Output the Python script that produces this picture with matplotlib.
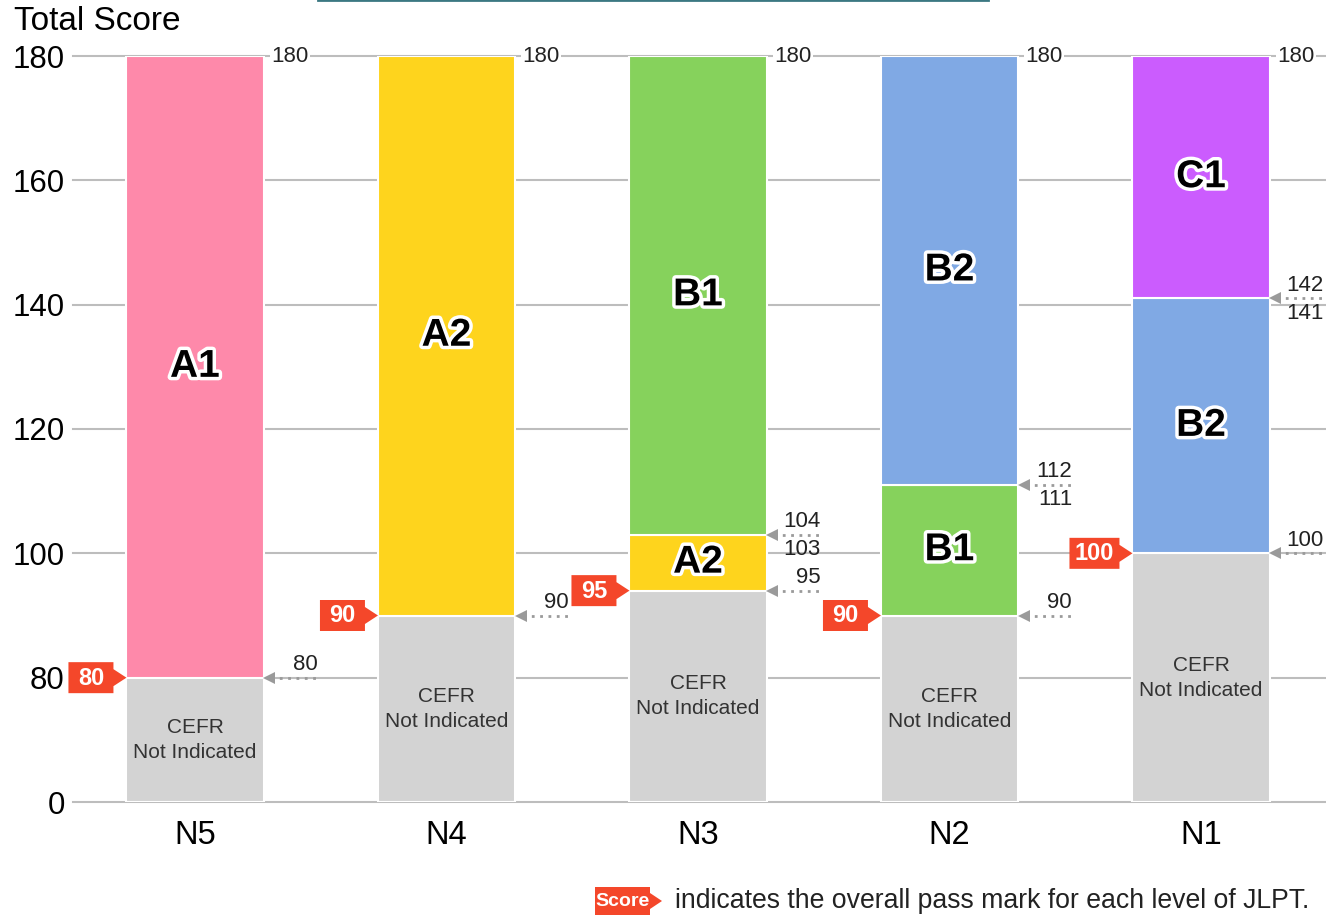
import matplotlib
matplotlib.use("Agg")
import matplotlib.pyplot as plt
import matplotlib.patheffects as pe
from matplotlib.patches import Polygon
from matplotlib.lines import Line2D
from matplotlib.transforms import ScaledTranslation

plt.rcParams['font.family'] = ['Liberation Sans', 'DejaVu Sans']

# ---- data ----
levels = ['N5', 'N4', 'N3', 'N2', 'N1']
pass_marks = [80, 90, 95, 90, 100]
gray_top = [80, 90, 94, 90, 100]          # top of "CEFR Not Indicated"
band1_label = ['A1', 'A2', 'A2', 'B1', 'B2']
band1_top = [180, 180, 103, 111, 141]
band2_label = [None, None, 'B1', 'B2', 'C1']
band2_top = [None, None, 180, 180, 180]
max_score = 180

# arrows on the right side: (boundary, text above, text below)
right_marks = [
    [(80, '80', None)],
    [(90, '90', None)],
    [(94, '95', None), (103, '104', '103')],
    [(90, '90', None), (111, '112', '111')],
    [(100, '100', None), (141, '142', '141')],
]

tick_vals = [0, 80, 100, 120, 140, 160, 180]

cefr_colors = {'A1': '#fe89aa', 'A2': '#fed41d', 'B1': '#86d25c',
               'B2': '#80a9e4', 'C1': '#cb5cfe'}
gray = '#d3d3d3'
red = '#f4472a'
arrow_gray = '#9a9a9a'


def f(v):
    # broken axis: 0-80 squeezed into the space of 20 points
    return v / 4.0 if v <= 80 else v - 60.0


fig = plt.figure(figsize=(13.26, 9.15), dpi=100)
ax = fig.add_axes([73 / 1326, 1 - 802 / 915, 1 - 73 / 1326, (802 - 56) / 915])
ax.set_xlim(-0.485, 4.497)
ax.set_ylim(0, f(max_score))
for s in ax.spines.values():
    s.set_visible(False)

for t in tick_vals:
    ax.axhline(f(t), color='#bdbdbd', lw=1.5, zorder=0, clip_on=False)

ax.set_yticks([f(t) for t in tick_vals])
ax.set_yticklabels([str(t) for t in tick_vals], fontsize=22.5)
ax.set_xticks(range(len(levels)))
ax.set_xticklabels(levels, fontsize=23.5)
ax.tick_params(axis='y', length=0, pad=6)
ax.tick_params(axis='x', length=0, pad=13)

bw = 0.545
label_fx = [pe.withStroke(linewidth=5, foreground='white')]


def tag(x, y, text, base, w=0.45, h=0.31, tl=0.13, th=0.085, fs=17, family=None):
    trans = fig.dpi_scale_trans + ScaledTranslation(x, y, base)
    verts = [(0, 0), (-tl, th), (-tl, h / 2), (-tl - w, h / 2),
             (-tl - w, -h / 2), (-tl, -h / 2), (-tl, -th)]
    fig.add_artist(Polygon(verts, closed=True, transform=trans,
                           facecolor=red, edgecolor='none', zorder=5))
    t = fig.text(-tl - w / 2, -0.005, text, transform=trans, ha='center', va='center',
                 color='white', fontsize=fs, fontweight='bold', zorder=6)
    if family:
        t.set_family(family)


for i, lev in enumerate(levels):
    # gray part
    ax.bar(i, f(gray_top[i]), bottom=0, width=bw, color=gray,
           edgecolor='white', linewidth=1.5, zorder=2)
    ax.text(i, f(gray_top[i]) / 2, 'CEFR\nNot Indicated', ha='center', va='center',
            fontsize=15, color='#333333', linespacing=1.4, zorder=4)
    # first band
    lo, hi = gray_top[i], band1_top[i]
    ax.bar(i, f(hi) - f(lo), bottom=f(lo), width=bw, color=cefr_colors[band1_label[i]],
           edgecolor='white', linewidth=1.5, zorder=2)
    ax.text(i, (f(hi) + f(lo)) / 2, band1_label[i], ha='center', va='center',
            fontsize=28, fontweight='bold', path_effects=label_fx, zorder=4)
    # second band
    if band2_label[i]:
        lo, hi = band1_top[i], band2_top[i]
        ax.bar(i, f(hi) - f(lo), bottom=f(lo), width=bw, color=cefr_colors[band2_label[i]],
               edgecolor='white', linewidth=1.5, zorder=2)
        ax.text(i, (f(hi) + f(lo)) / 2, band2_label[i], ha='center', va='center',
                fontsize=28, fontweight='bold', path_effects=label_fx, zorder=4)

    right = i + bw / 2
    # 180 label at top
    ax.text(right + 0.03, f(max_score), str(max_score), ha='left', va='center',
            fontsize=16, color='#222222', zorder=4,
            bbox=dict(facecolor='white', edgecolor='none', pad=1))
    # arrows on the right
    for (b, above, below) in right_marks[i]:
        yb = f(b)
        ax.plot([right + 0.03, right + 0.22], [yb, yb], color=arrow_gray, lw=2,
                linestyle=(0, (1, 2)), zorder=3, clip_on=False)
        ax.plot(right + 0.022, yb, marker='<', markersize=9, color=arrow_gray,
                markeredgewidth=0, zorder=3, clip_on=False)
        ax.annotate(above, (right + 0.215, yb), xytext=(0, 2), textcoords='offset points',
                    ha='right', va='bottom', fontsize=16, color='#222222', zorder=4)
        if below:
            ax.annotate(below, (right + 0.215, yb), xytext=(0, -3), textcoords='offset points',
                        ha='right', va='top', fontsize=16, color='#222222', zorder=4)

    # red pass mark tag on the left
    txt = str(pass_marks[i])
    tag(i - bw / 2, f(gray_top[i]), txt, ax.transData,
        w=0.45 if len(txt) < 3 else 0.5)

# title-ish label
fig.text(14 / 1326, 1 - 6 / 915, 'Total Score', ha='left', va='top', fontsize=24)

# thin line at the very top
fig.add_artist(Line2D([318 / 1326, 988 / 1326], [0.9995, 0.9995],
                      color='#3b7882', lw=2, transform=fig.transFigure))

# footnote
tag(662 / 1326, 1 - 901 / 915, 'Score', fig.transFigure, w=0.55, h=0.28, tl=0.12,
    th=0.08, fs=14, family=['Liberation Sans Narrow', 'Liberation Sans'])
fig.text(675 / 1326, 1 - 901 / 915, 'indicates the overall pass mark for each level of JLPT.',
         ha='left', va='center', fontsize=19.2, color='#222222')

fig.savefig('out.png', dpi=100)
